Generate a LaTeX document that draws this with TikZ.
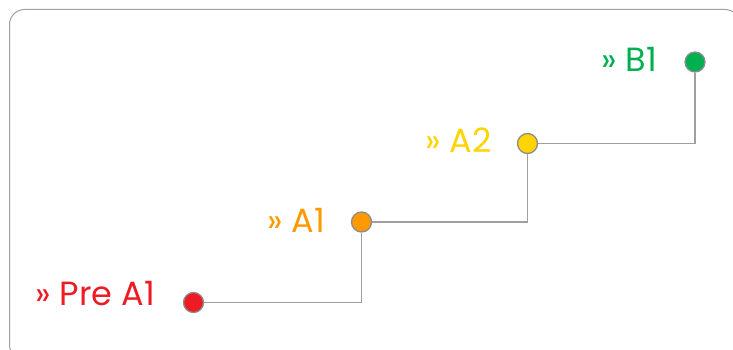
\documentclass[tikz,border=0pt]{standalone}
\usepackage{fontspec}
\setmainfont{Poppins}
\definecolor{cred}{RGB}{237,28,36}
\definecolor{corange}{RGB}{255,153,0}
\definecolor{cyellow}{RGB}{255,212,0}
\definecolor{cgreen}{RGB}{0,176,80}
\definecolor{cline}{RGB}{160,160,160}
\definecolor{cdot}{RGB}{140,140,140}
\begin{document}
\begin{tikzpicture}[x=1pt,y=-1pt,
  dot/.style={circle,draw=cdot,line width=1.3pt,minimum size=20pt,inner sep=0pt},
  lbl/.style={anchor=base east,inner sep=0pt,font=\fontsize{33.5}{40}\selectfont},
  conn/.style={draw=cline,line width=1.3pt}]
\useasboundingbox (0,0) rectangle (733,350);
\draw[cline,line width=1pt,rounded corners=15pt] (9.5,9.5) rectangle (740,360);
\node[dot,fill=cred] (pa1) at (193.5,302.5) {};
\node[dot,fill=corange] (a1) at (361.5,222) {};
\node[dot,fill=cyellow] (a2) at (527.5,143.5) {};
\node[dot,fill=cgreen] (b1) at (695,62) {};
\node[lbl,text=cred] (tpa1) at (155,305) {» Pre A1};
\node[lbl,text=corange] (ta1) at (325,232.5) {» A1};
\node[lbl,text=cyellow] (ta2) at (492,152.5) {» A2};
\node[lbl,text=cgreen] (tb1) at (657,71.5) {» B1};
\draw[conn] (pa1) -- (pa1 -| a1) -- (a1);
\draw[conn] (a1) -- (a1 -| a2) -- (a2);
\draw[conn] (a2) -- (a2 -| b1) -- (b1);
\end{tikzpicture}
\end{document}
